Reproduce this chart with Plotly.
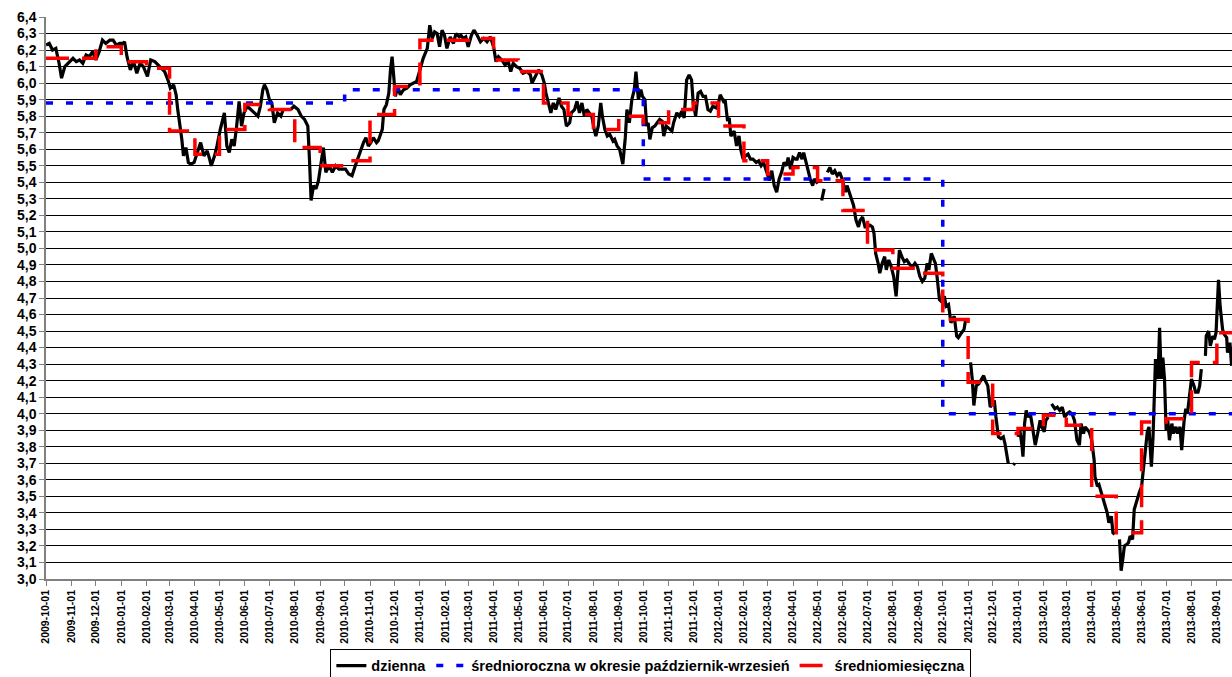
import pandas as pd
import plotly.graph_objects as go

START = "2009-10-01"
END = "2013-09-19 12:00"

# ---- daily rate: day offset from 2009-10-01 and value (None = gap in series) ----
daily_day = [
    0, 4, 8, 12, 16, 19, 23, 29, 33, 37,
    41, 45, 49, 53, 57, 61, 65, 69, 73, 78,
    82, 86, 90, 94, 96, 99, 103, 107, 111, 115,
    119, 124, 128, 133, 137, 141, 145, 149, 152, 156,
    159, 161, 163, 166, 168, 171, 174, 177, 181, 185,
    189, 193, 197, 200, 202, 206, 209, 213, 216, 218,
    221, 224, 227, 230, 233, 236, 239, 242, 246, 250,
    255, 259, 262, 265, 267, 270, 273, 276, 279, 283,
    287, 290, 294, 299, 303, 308, 312, 316, 320, 322,
    324, 327, 330, 333, 336, 339, 342, 346, 350, 354,
    358,
    366, 370, 374, 378, 382, 385, 388, 391, 394, 397,
    400, 404, 406, 411, 413, 416, 419, 421, 423, 425,
    427, 430, 433, 437, 441, 445, 449, 453, 457, 461,
    466, 469, 472, 475, 478, 481, 484, 487, 490, 494,
    498, 501, 505, 507, 510, 513, 516, 520, 523, 527,
    531, 535, 539, 543, 547, 550, 553, 557, 561, 565,
    568, 571, 575, 579, 583, 588, 592, 594, 598, 602,
    606, 609, 611, 614, 617, 620, 623, 627, 630, 633,
    636, 640, 642, 646, 649, 652, 655, 658, 661, 664,
    667, 670, 672, 675, 678, 680, 683, 686, 689, 693,
    695, 698, 701, 705, 708, 710, 713, 716, 719, 721,
    724, 727,
    729, 732, 734, 736, 738, 741, 744, 747, 750, 753,
    755, 758, 762, 765, 767, 771, 774, 777, 780, 783,
    786, 789, 791, 794, 797, 800, 803, 806, 809, 812,
    815, 819, 822, 824, 828, 830, 833, 835, 837, 841,
    844, 847, 849, 852, 855, 858, 861, 864, 868, 871,
    874, 877, 881, 884, 887, 890, 893, 896, 899, 902,
    905, 907, 910, 913, 916, 918, 921, 924, 926, 929,
    932, 934, 937, 939, 942, 945, 946, 948, 951, 953,
    955, 958, 961, 964, 967, 970, 973, 977, 979, 982,
    985, 987, 990, 993, 995, 998, 1001, 1004, 1007, 1010,
    1012, 1014, 1017, 1019, 1022, 1025, 1027, 1030, 1033, 1036,
    1039, 1041, 1043, 1046, 1049, 1052, 1056, 1059, 1062, 1065,
    1068, 1071, 1074, 1077, 1079, 1082, 1085, 1087,
    1089, 1092, 1094, 1098, 1100, 1103, 1106, 1110, 1113, 1115,
    1119, 1122, 1124, 1127, 1130, 1132, 1134, 1137, 1140, 1143,
    1146, 1148, 1151, 1154, 1157, 1159, 1161, 1164, 1167, 1170,
    1172, 1176, 1179, 1182, 1184, 1186, 1188, 1190, 1193, 1194,
    1196, 1198, 1200, 1203, 1205, 1207, 1209, 1212, 1215, 1217,
    1220, 1222, 1225, 1227, 1229, 1231, 1233, 1236, 1239, 1242,
    1245, 1248, 1251, 1254, 1257, 1260, 1263, 1265, 1268, 1270,
    1273, 1275, 1278, 1281, 1282, 1285, 1287, 1290, 1292, 1294,
    1297, 1299, 1302, 1304, 1306, 1309, 1312, 1314, 1316, 1318,
    1321, 1323, 1325, 1328, 1330, 1332, 1334, 1336, 1339, 1341,
    1343, 1346, 1348, 1351, 1353, 1355, 1356, 1359, 1361, 1363,
    1365, 1367, 1369, 1371, 1373, 1376, 1378, 1381, 1383, 1386,
    1388, 1391, 1393, 1395, 1398, 1400, 1403, 1405, 1408, 1410,
    1412, 1414, 1417, 1418, 1421, 1423, 1426, 1428, 1430, 1433,
    1435, 1438, 1440, 1443, 1444, 1447, 1449,
]
daily_rate = [
    6.23, 6.24, 6.20, 6.21, 6.12, 6.03, 6.10, 6.13, 6.15, 6.13,
    6.14, 6.12, 6.17, 6.16, 6.19, 6.14, 6.19, 6.26, 6.24, 6.26,
    6.26, 6.23, 6.24, 6.24, 6.25, 6.16, 6.08, 6.13, 6.06, 6.12,
    6.10, 6.04, 6.14, 6.13, 6.11, 6.09, 6.07, 6.02, 5.97, 5.99,
    5.93, 5.84, 5.77, 5.66, 5.56, 5.61, 5.52, 5.51, 5.52, 5.58,
    5.64, 5.56, 5.59, 5.54, 5.50, 5.56, 5.62, 5.72, 5.78, 5.82,
    5.62, 5.58, 5.66, 5.62, 5.74, 5.89, 5.74, 5.82, 5.86, 5.84,
    5.82, 5.80, 5.86, 5.96, 5.99, 5.96, 5.90, 5.88, 5.76, 5.82,
    5.80, 5.84, None, 5.84, 5.86, 5.84, 5.80, 5.78, 5.74, 5.54,
    5.29, 5.38, 5.36, 5.41, 5.50, 5.61, 5.46, 5.50, 5.46, 5.50,
    5.48,
    5.48, 5.45, 5.44, 5.50, 5.56, 5.60, 5.64, 5.67, 5.62, 5.64,
    5.67, 5.64, 5.65, 5.72, 5.84, 5.87, 5.94, 6.08, 6.16, 6.04,
    5.92, 5.98, 5.93, 5.96, 5.97, 5.99, 6.00, 6.01, 6.08, 6.15,
    6.21, 6.35, 6.27, 6.31, 6.30, 6.22, 6.32, 6.29, 6.21, 6.28,
    6.24, 6.30, 6.28, 6.29, 6.27, 6.28, 6.22, 6.29, 6.32, 6.29,
    6.25, 6.27, 6.25, 6.28, 6.22, 6.13, 6.16, 6.14, 6.11, 6.13,
    6.07, 6.12, 6.10, 6.09, 6.06, 6.07, 6.05, 6.00, 6.04, 6.08,
    6.05, 6.00, 5.94, 5.88, 5.82, 5.88, 5.84, 5.91, 5.86, 5.84,
    5.74, 5.76, 5.82, 5.84, 5.89, 5.82, 5.88, 5.80, 5.84, 5.82,
    5.80, 5.72, 5.68, 5.74, 5.88, 5.80, 5.72, 5.68, 5.69, 5.65,
    5.66, 5.62, 5.60, 5.51, 5.67, 5.84, 5.76, 5.90, 5.96, 6.07,
    5.90, 5.96,
    5.92, 5.90, 5.74, 5.76, 5.66, 5.73, 5.74, 5.76, 5.78, 5.77,
    5.68, 5.74, 5.72, 5.71, 5.76, 5.82, 5.80, 5.83, 5.79, 6.02,
    6.05, 6.02, 5.88, 5.80, 5.94, 5.95, 5.92, 5.92, 5.84, 5.83,
    5.86, 5.85, 5.88, 5.93, 5.89, 5.90, 5.77, 5.79, 5.68, 5.71,
    5.62, 5.68, 5.60, 5.54, 5.56, 5.57, 5.54, 5.54, 5.52, 5.53,
    5.50, 5.52, 5.46, 5.41, 5.47, 5.38, 5.34, 5.42, 5.46, 5.52,
    5.50, 5.55, 5.48, 5.55, 5.54, 5.54, 5.58, 5.54, 5.58, 5.52,
    5.46, 5.42, 5.38, 5.42, 5.40, 5.41, None, 5.29, 5.36, None,
    5.46, 5.49, 5.45, 5.47, 5.44, 5.46, 5.42, 5.34, 5.38, 5.34,
    5.30, 5.26, 5.17, 5.13, 5.17, 5.19, 5.13, 5.13, 5.14, 5.13,
    5.09, 4.97, 4.91, 4.85, 4.91, 4.95, 4.87, 4.93, 4.89, 4.83,
    4.71, 4.85, 4.99, 4.95, 4.92, 4.93, 4.90, 4.89, 4.91, 4.89,
    4.83, 4.80, 4.82, 4.91, 4.87, 4.97, 4.93, 4.91,
    4.83, 4.69, 4.68, 4.71, 4.65, 4.66, 4.55, 4.59, 4.47, 4.46,
    4.49, 4.51, 4.57, None, 4.31, 4.21, 4.05, 4.17, 4.18, 4.21,
    4.23, 4.20, 4.17, 4.04, 4.06, 4.08, 3.98, 3.86, 3.85, 3.86,
    3.82, 3.70, None, 3.69, 3.70, None, 3.86, 3.91, 3.80, 3.74,
    3.94, 4.02, 3.98, 4.00, 3.94, 3.88, 3.81, 3.88, 3.96, 3.92,
    3.89, 3.96, 3.98, None, 4.06, 4.04, 4.03, 4.04, 4.02, 4.04,
    3.98, 4.00, 4.01, 4.00, 3.96, 3.84, 3.81, 3.94, 3.88, 3.92,
    3.90, 3.89, 3.84, 3.72, 3.62, 3.56, 3.57, 3.52, 3.48, 3.46,
    3.40, 3.34, 3.38, 3.28, 3.27, None, 3.24, 3.05, 3.12, 3.20,
    3.21, 3.22, 3.26, 3.24, 3.42, 3.46, 3.50, 3.52, 3.56, 3.66,
    3.73, 3.89, 3.92, 3.68, 3.86, 4.10, 4.33, 4.21, 4.52, 4.21,
    4.34, 4.21, 3.90, 3.96, 3.84, 3.94, 3.88, 3.92, 3.88, 3.92,
    3.78, 3.96, 4.03, 4.00, 4.13, 4.21, 4.17, 4.13, 4.13, 4.17,
    4.27, None, 4.35, 4.47, 4.50, 4.41, 4.47, 4.45, 4.49, 4.81,
    4.65, 4.51, 4.48, 4.46, 4.37, 4.43, 4.29,
]
assert len(daily_day) == len(daily_rate), (len(daily_day), len(daily_rate))

# ---- monthly averages (Oct 2009 .. Sep 2013) ----
month_labels = pd.date_range("2009-10-01", "2013-09-01", freq="MS")
monthly_avg = [
    6.15, 6.15, 6.22, 6.13, 6.09, 5.71, 5.57, 5.72, 5.87, 5.84, 5.61, 5.50,
    5.53, 5.81, 5.98, 6.26, 6.26, 6.27, 6.14, 6.07, 5.88, 5.81, 5.72, 5.80,
    5.76, 5.84, 5.88, 5.74, 5.53, 5.45, 5.49, 5.41, 5.23, 4.99, 4.88, 4.85,
    4.57, 4.19, 3.88, 3.91, 3.99, 3.93, 3.50, 3.28, 3.95, 3.97, 4.31, 4.49,
]

# ---- yearly averages for October-September periods ----
year_starts = ["2009-10-01", "2010-10-01", "2011-10-01", "2012-10-01"]
yearly_avg = [5.88, 5.96, 5.42, 4.00]

series_names = [
    "dzienna",
    "średnioroczna w okresie październik-wrzesień",
    "średniomiesięczna",
]

FONT = "Arial, Liberation Sans, sans-serif"

daily_dates = pd.Timestamp(START) + pd.to_timedelta(daily_day, unit="D")
end_ts = pd.Timestamp(END)

fig = go.Figure()
fig.add_trace(go.Scatter(
    x=daily_dates, y=daily_rate, mode="lines", name=series_names[0],
    line=dict(color="#000000", width=3.2), connectgaps=False,
))
fig.add_trace(go.Scatter(
    x=list(pd.to_datetime(year_starts)) + [end_ts],
    y=yearly_avg + [yearly_avg[-1]],
    mode="lines", name=series_names[1], line_shape="hv",
    line=dict(color="#0000FF", width=3.5, dash="7px,13px"),
))
fig.add_trace(go.Scatter(
    x=list(month_labels) + [end_ts],
    y=monthly_avg + [monthly_avg[-1]],
    mode="lines", name=series_names[2], line_shape="hv",
    line=dict(color="#FF0000", width=3.5, dash="23px,13px"),
))

fig.update_layout(
    width=1232, height=677,
    margin=dict(l=46, r=0, t=17, b=98, autoexpand=False),
    paper_bgcolor="white", plot_bgcolor="white",
    separators=", ",
    font=dict(family=FONT, color="black"),
    showlegend=True,
    legend=dict(
        orientation="h", x=0.51, xanchor="center", y=-0.124, yanchor="top",
        bordercolor="black", borderwidth=1, bgcolor="white",
        font=dict(family=FONT, size=14.5, color="black", weight="bold"),
        tracegroupgap=0,
    ),
    xaxis=dict(
        range=[pd.Timestamp(START), end_ts], automargin=False,
        tickvals=list(month_labels), tickformat="%Y-%m-%d", tickangle=-90,
        ticks="outside", ticklen=5, tickcolor="#808080",
        showline=True, linecolor="#808080", linewidth=1.5,
        showgrid=False, zeroline=False,
        tickfont=dict(family=FONT, size=10.5, color="black", weight="bold"),
    ),
    yaxis=dict(
        range=[3.0, 6.4], tick0=3.0, dtick=0.1, tickformat=".1f", automargin=False,
        ticks="outside", ticklen=5, tickcolor="#808080",
        showline=True, linecolor="#808080", linewidth=1.5,
        showgrid=True, gridcolor="#000000", gridwidth=1, zeroline=False,
        tickfont=dict(family=FONT, size=14, color="black", weight="bold"),
    ),
)

fig.write_html(
    "out.html",
    config={"displayModeBar": False},
    post_script="document.body.style.margin='0px';document.body.style.overflow='hidden';",
)
